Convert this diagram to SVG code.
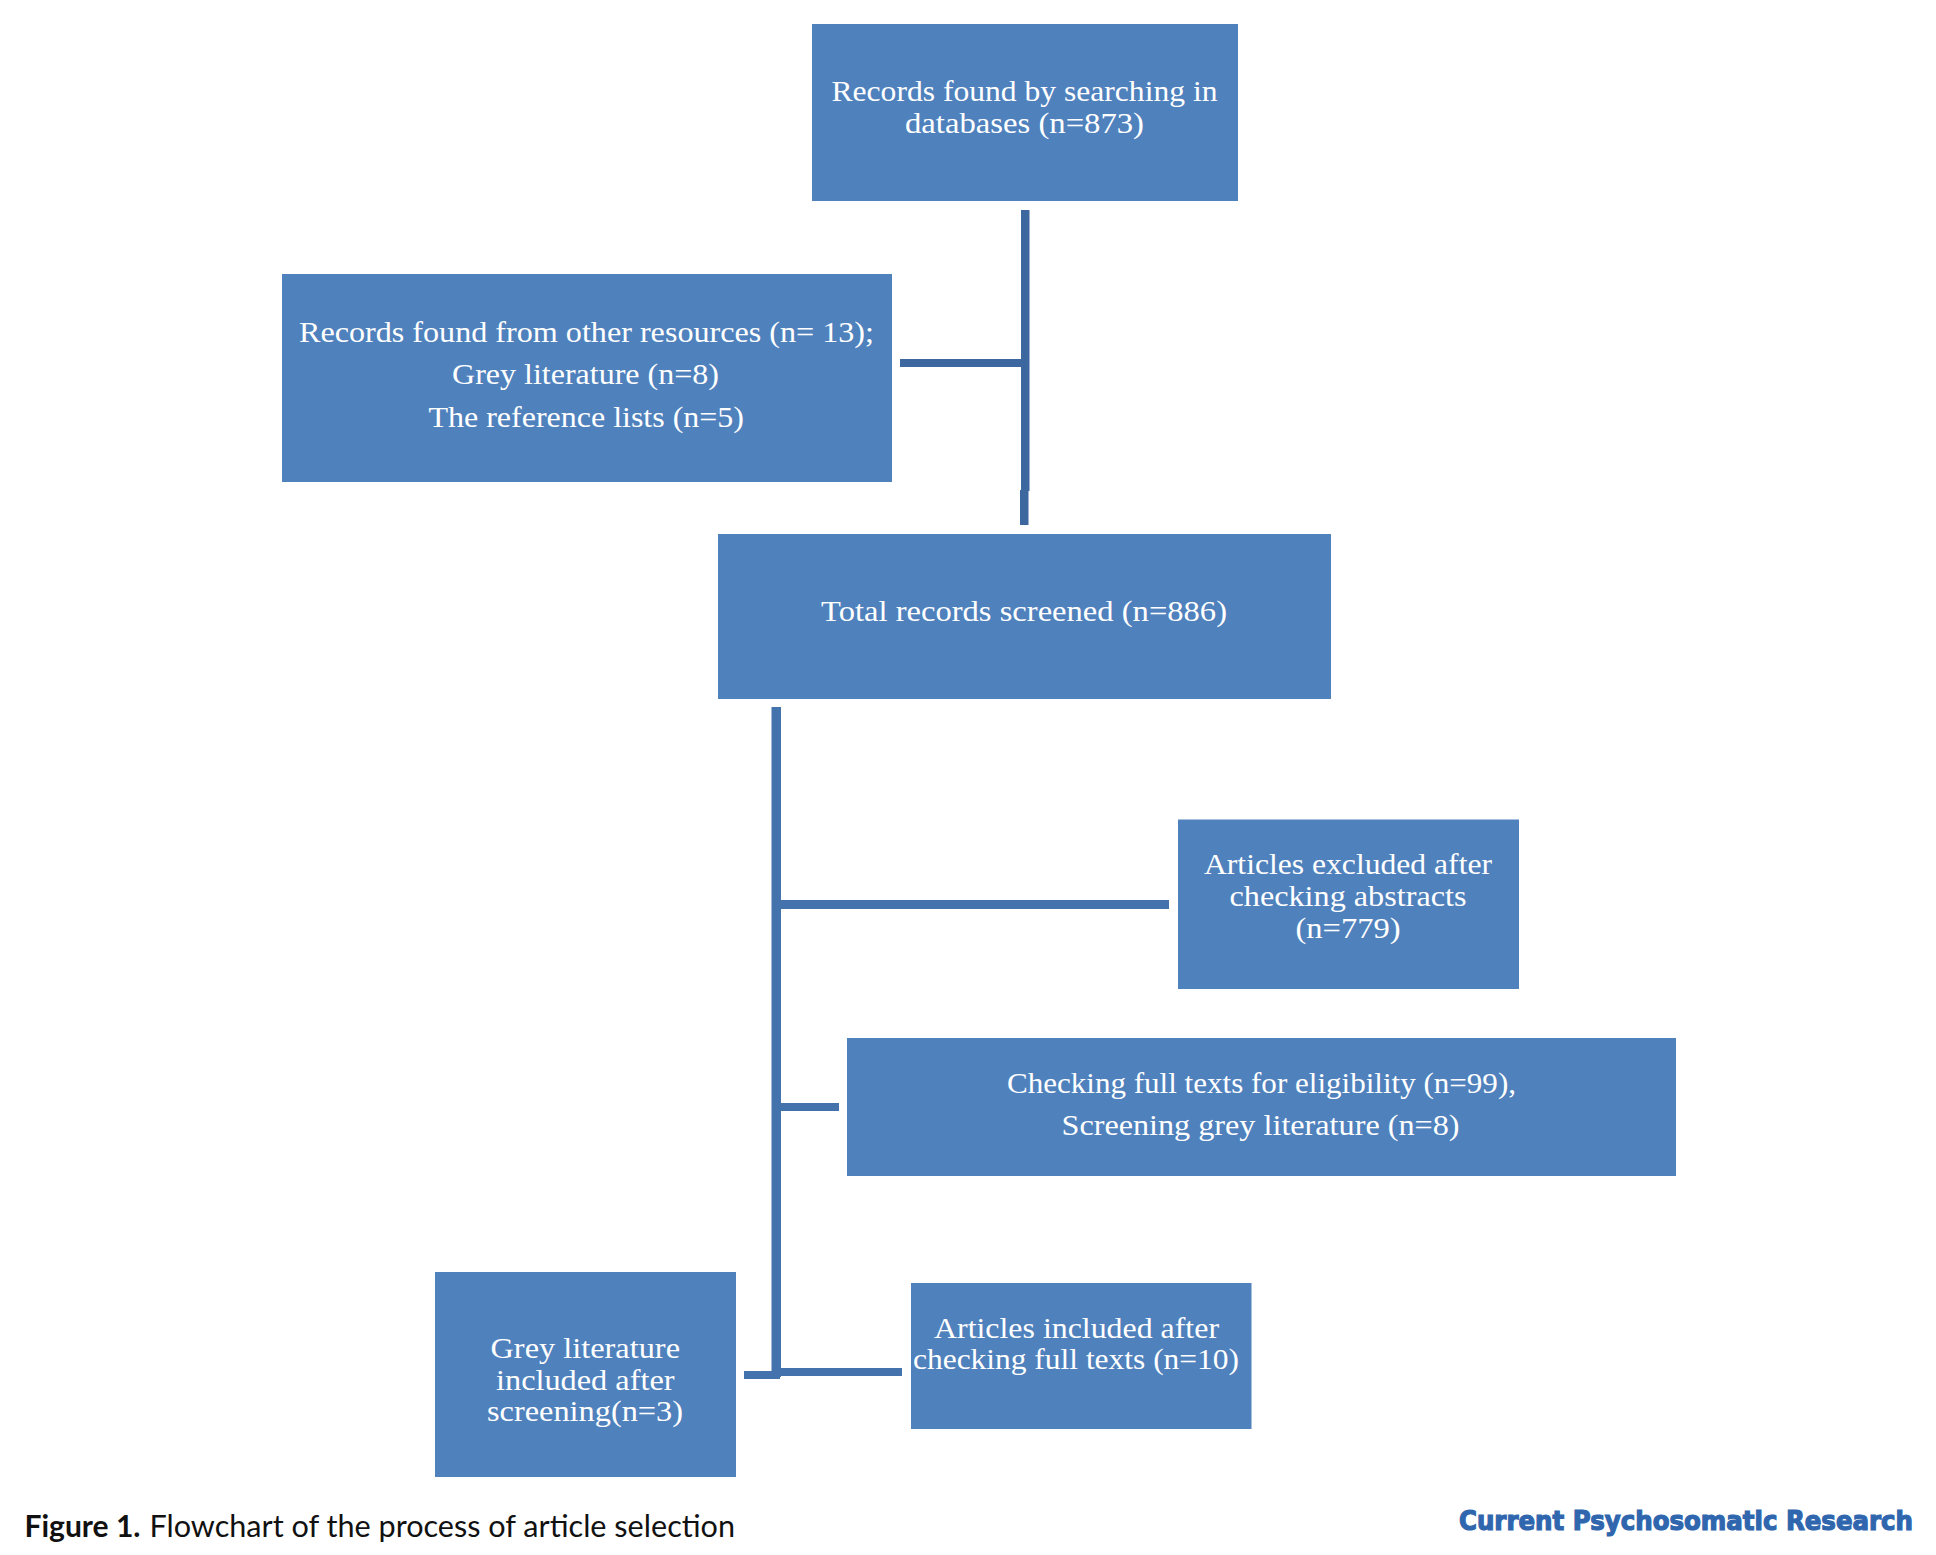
<svg xmlns="http://www.w3.org/2000/svg" width="1936" height="1555" viewBox="0 0 1936 1555">
<style>
.box{fill:#4f81bd}
.t{font-family:"Liberation Serif","Noto Serif",serif;font-size:30px;fill:#fff}
.ln{fill:#3c689f}
.ln2{fill:#4472ad}
.cap{font-family:Lato,"Liberation Sans",sans-serif;font-size:31px;fill:#111}
.wm{font-family:"DejaVu Sans",sans-serif;font-size:26px;font-weight:bold;fill:#2f66ae;stroke:#2f66ae;stroke-width:1.200}
</style>
<rect width="1936" height="1555" fill="#fff"/>
<g id="connectors">
<rect class="ln" x="1021" y="210" width="8.5" height="281"/>
<rect class="ln" x="1020" y="490" width="8.5" height="35"/>
<rect class="ln" x="900" y="359" width="125" height="8"/>
<rect class="ln2" x="771.5" y="707" width="9.5" height="670"/>
<rect class="ln2" x="780" y="900" width="389" height="9"/>
<rect class="ln2" x="780" y="1103" width="59" height="8"/>
<rect class="ln2" x="780" y="1368" width="122" height="8"/>
<rect class="ln2" x="744" y="1371" width="36" height="8"/>
</g>
<g id="node-databases">
<rect class="box" x="812" y="24" width="426" height="177"/>
<text class="t" x="831.500" y="101" textLength="386" lengthAdjust="spacingAndGlyphs">Records found by searching in</text>
<text class="t" x="905" y="133" textLength="239" lengthAdjust="spacingAndGlyphs">databases (n=873)</text>
</g>
<g id="node-other">
<rect class="box" x="282" y="274" width="610" height="208"/>
<text class="t" x="299" y="342" textLength="575" lengthAdjust="spacingAndGlyphs">Records found from other resources (n= 13);</text>
<text class="t" x="452" y="384" textLength="267" lengthAdjust="spacingAndGlyphs">Grey literature (n=8)</text>
<text class="t" x="428.500" y="427" textLength="315.500" lengthAdjust="spacingAndGlyphs">The reference lists (n=5)</text>
</g>
<g id="node-total">
<rect class="box" x="718" y="534" width="613" height="165"/>
<text class="t" x="821" y="621" textLength="406" lengthAdjust="spacingAndGlyphs">Total records screened (n=886)</text>
</g>
<g id="node-excluded">
<rect class="box" x="1178" y="819.500" width="341" height="169.500"/>
<text class="t" x="1204" y="874" textLength="288" lengthAdjust="spacingAndGlyphs">Articles excluded after</text>
<text class="t" x="1229.500" y="906" textLength="237" lengthAdjust="spacingAndGlyphs">checking abstracts</text>
<text class="t" x="1295.500" y="937.500" textLength="105" lengthAdjust="spacingAndGlyphs">(n=779)</text>
</g>
<g id="node-fulltext">
<rect class="box" x="847" y="1038" width="829" height="138"/>
<text class="t" x="1007" y="1093" textLength="509" lengthAdjust="spacingAndGlyphs">Checking full texts for eligibility (n=99),</text>
<text class="t" x="1061.500" y="1135" textLength="398" lengthAdjust="spacingAndGlyphs">Screening grey literature (n=8)</text>
</g>
<g id="node-included">
<rect class="box" x="911" y="1283" width="340.500" height="146"/>
<text class="t" x="934" y="1338" textLength="285" lengthAdjust="spacingAndGlyphs">Articles included after</text>
<text class="t" x="913" y="1369" textLength="326" lengthAdjust="spacingAndGlyphs">checking full texts (n=10)</text>
</g>
<g id="node-grey">
<rect class="box" x="435" y="1272" width="301" height="205"/>
<text class="t" x="490.500" y="1358" textLength="189.500" lengthAdjust="spacingAndGlyphs">Grey literature</text>
<text class="t" x="496" y="1390" textLength="178.500" lengthAdjust="spacingAndGlyphs">included after</text>
<text class="t" x="487" y="1421" textLength="196" lengthAdjust="spacingAndGlyphs">screening(n=3)</text>
</g>
<text class="cap" x="24.500" y="1537" font-weight="bold" textLength="116" lengthAdjust="spacingAndGlyphs">Figure 1.</text>
<text class="cap" x="149.500" y="1537" textLength="585.500" lengthAdjust="spacingAndGlyphs">Flowchart of the process of article selection</text>
<text class="wm" x="1459" y="1530" textLength="454" lengthAdjust="spacingAndGlyphs">Current Psychosomatic Research</text>
</svg>
